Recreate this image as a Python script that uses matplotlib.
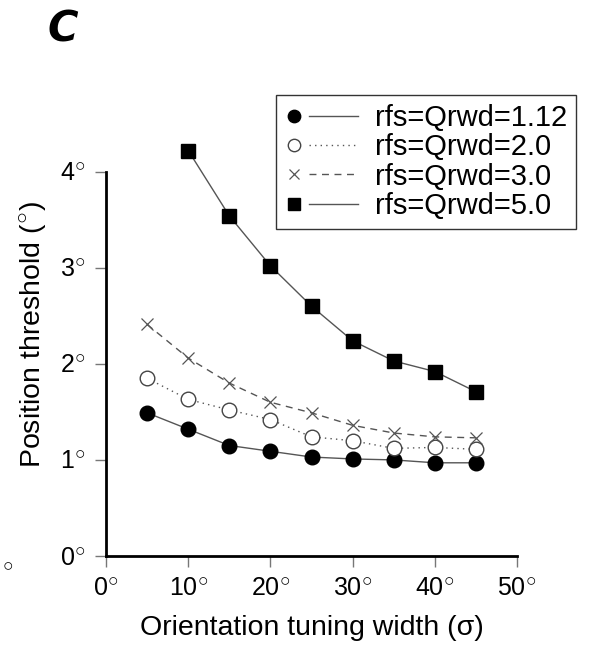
import matplotlib
matplotlib.use('Agg')
import matplotlib.pyplot as plt
from matplotlib.lines import Line2D
from matplotlib.legend_handler import HandlerBase

# data (panel C)
sigma = [5, 10, 15, 20, 25, 30, 35, 40, 45]
thr_112 = [1.49, 1.32, 1.15, 1.09, 1.03, 1.01, 1.00, 0.97, 0.97]
thr_20 = [1.85, 1.63, 1.52, 1.42, 1.24, 1.20, 1.12, 1.13, 1.11]
thr_30 = [2.41, 2.06, 1.80, 1.60, 1.49, 1.36, 1.28, 1.24, 1.23]
sigma_50 = [10, 15, 20, 25, 30, 35, 40, 45]
thr_50 = [4.22, 3.54, 3.02, 2.60, 2.24, 2.03, 1.92, 1.71]

labels = ['rfs=Qrwd=1.12', 'rfs=Qrwd=2.0', 'rfs=Qrwd=3.0', 'rfs=Qrwd=5.0']
xticks = [0, 10, 20, 30, 40, 50]
yticks = [0, 1, 2, 3, 4]

plt.rcParams['font.family'] = ['Liberation Sans', 'DejaVu Sans']
plt.rcParams['mathtext.fontset'] = 'custom'
plt.rcParams['mathtext.rm'] = 'Liberation Sans'

lineCol = '#555555'
deg = r'$^{\bigcirc}$'  # the original uses a big open ring for degrees


class MarkerThenLine(HandlerBase):
    # marker on the left, short line on the right (like the original legend)
    def create_artists(self, legend, orig_handle, xdescent, ydescent,
                       width, height, fontsize, trans):
        mk, ln = orig_handle
        yc = (height - ydescent) / 2
        m = Line2D([-xdescent + 0.12 * width], [yc])
        m.update_from(mk)
        m.set_transform(trans)
        l = Line2D([-xdescent + 0.33 * width, -xdescent + width], [yc, yc])
        l.update_from(ln)
        l.set_transform(trans)
        return [l, m]


fig = plt.figure(figsize=(5.9, 6.47), dpi=100)
ax = fig.add_axes([106/590, 1 - 556/647, 411/590, (556 - 114)/647])

styles = [
    (sigma, thr_112, dict(marker='o', mfc='black', mec='black', ms=10.5, mew=1, ls='-')),
    (sigma, thr_20, dict(marker='o', mfc='white', mec='#444444', ms=10.5, mew=1, ls=(0, (1, 3)))),
    (sigma, thr_30, dict(marker='x', mfc='none', mec='#555555', ms=9, mew=0.9, ls=(0, (5, 4)))),
    (sigma_50, thr_50, dict(marker='s', mfc='black', mec='black', ms=10.5, mew=1, ls='-')),
]
handles = []
for xs, ys, st in styles:
    ax.plot(xs, ys, color=lineCol, lw=1, clip_on=False, zorder=3, **st)
    mk = Line2D([], [], ls='none', marker=st['marker'], mfc=st['mfc'], mec=st['mec'],
                ms=st['ms'] * 0.85, mew=st['mew'])
    ln = Line2D([], [], color=lineCol, lw=1, ls=st['ls'])
    handles.append((mk, ln))

ax.set_xlim(0, 50)
ax.set_ylim(0, 4.6)
ax.spines['top'].set_visible(False)
ax.spines['right'].set_visible(False)
ax.spines['left'].set_bounds(0, 4)
ax.spines['bottom'].set_bounds(0, 50)
for s in ('left', 'bottom'):
    ax.spines[s].set_linewidth(2)

ax.set_xticks(xticks)
ax.set_xticklabels([f'{t}' + deg for t in xticks])
ax.set_yticks(yticks)
ax.set_yticklabels([f'{t}' + deg for t in yticks])
ax.tick_params(direction='out', length=8, width=1, color='#777777', labelsize=18, pad=7)

ax.set_xlabel('Orientation tuning width (σ)', fontsize=20.5, labelpad=10)
ax.set_ylabel('Position threshold (' + deg + ')', fontsize=20.5, labelpad=8)

leg = fig.legend(handles, labels, handler_map={tuple: MarkerThenLine()},
                 loc='upper left', bbox_to_anchor=(276/590, 1 - 95/647),
                 fontsize=21, handlelength=2.5, handletextpad=0.6, labelspacing=0.05,
                 borderpad=0.3, borderaxespad=0, fancybox=False, frameon=True)
leg.get_frame().set_edgecolor('black')
leg.get_frame().set_linewidth(1)

fig.text(63/590, 1 - 30/647, 'C', fontsize=30, fontweight='bold', fontstyle='italic',
         family='DejaVu Sans', ha='center', va='center')
# stray degree ring left over from the neighbouring panel
fig.text(2/590, 1 - 572/647, deg, fontsize=18, ha='left', va='center')

fig.savefig('out.png', dpi=100)
